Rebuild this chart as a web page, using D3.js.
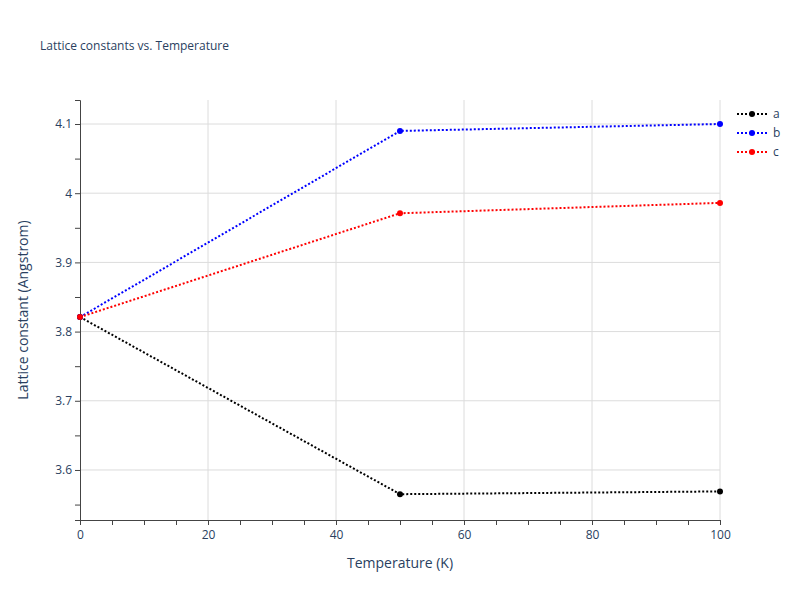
<!DOCTYPE html>
<html><head><meta charset="utf-8">
<script src="https://cdn.jsdelivr.net/npm/d3@7"></script>
<style>body{margin:0;background:#fff}text{font-family:"Open Sans",Arial,sans-serif}</style>
</head><body><svg id="c" width="800" height="600"></svg>
<script>
const temps=[0,50,100];
const seriesNames=["a","b","c"];
const seriesColors=["black","blue","red"];
const aVals=[3.821,3.565,3.569];
const bVals=[3.821,4.090,4.100];
const cVals=[3.821,3.971,3.986];
const xTicks=[0,20,40,60,80,100];
const yTicks=[3.6,3.7,3.8,3.9,4.0,4.1];
const yTickLabels=["3.6","3.7","3.8","3.9","4","4.1"];
const allVals=[aVals,bVals,cVals];
const TXT="#2a3f5f";

const svg=d3.select("#c");
const L=80,R=720,T=100,B=520;
const x=d3.scaleLinear().domain([0,100]).range([L,R]);
const y=d3.scaleLinear().domain([3.5277,4.1347]).range([B,T]);
const grid=svg.append("g");
xTicks.forEach(t=>{ if(t>0) grid.append("line").attr("x1",x(t)).attr("x2",x(t)).attr("y1",T).attr("y2",B).attr("stroke","#dcdcdc");});
yTicks.forEach(t=>grid.append("line").attr("x1",L).attr("x2",R).attr("y1",y(t)).attr("y2",y(t)).attr("stroke","#dcdcdc"));
const xa=svg.append("g").attr("transform",`translate(0,${B})`).call(d3.axisBottom(x).tickValues(d3.range(0,101,5)).tickFormat(d=>xTicks.includes(d)?d:"").tickSize(5));
xa.select(".domain").attr("stroke","#444");
xa.selectAll("line").attr("stroke","#444");
xa.selectAll("text").attr("fill",TXT).attr("font-size",12).attr("dy","0.9em");
const ya=svg.append("g").attr("transform",`translate(${L},0)`).call(d3.axisLeft(y).tickValues(d3.range(3.55,4.13,0.05)).tickFormat(d=>{const i=yTicks.findIndex(t=>Math.abs(t-d)<1e-6);return i>=0?yTickLabels[i]:"";}).tickSize(5));
ya.select(".domain").attr("stroke","#444");
ya.selectAll("line").attr("stroke","#444");
ya.selectAll("text").attr("fill",TXT).attr("font-size",12);
const line=d3.line().x((d,i)=>x(temps[i])).y(d=>y(d));
allVals.forEach((vals,k)=>{
  svg.append("path").attr("d",line(vals)).attr("fill","none").attr("stroke",seriesColors[k]).attr("stroke-width",2).attr("stroke-dasharray","2,2");
  svg.selectAll(null).data(vals).enter().append("circle").attr("cx",(d,i)=>x(temps[i])).attr("cy",d=>y(d)).attr("r",3).attr("fill",seriesColors[k]);
});
seriesNames.forEach((n,k)=>{
  const g=svg.append("g").attr("transform",`translate(737,${114+k*19})`);
  g.append("line").attr("x1",0).attr("x2",30).attr("stroke",seriesColors[k]).attr("stroke-width",2).attr("stroke-dasharray","2,2");
  g.append("circle").attr("cx",15).attr("r",3).attr("fill",seriesColors[k]);
  g.append("text").attr("x",36).attr("dy","0.35em").attr("font-size",12).attr("fill",TXT).text(n);
});
svg.append("text").attr("x",40).attr("y",50).attr("font-size",12).attr("fill",TXT).text("Lattice constants vs. Temperature");
svg.append("text").attr("x",400).attr("y",568).attr("text-anchor","middle").attr("font-size",14).attr("fill",TXT).text("Temperature (K)");
svg.append("text").attr("transform","translate(28,310) rotate(-90)").attr("text-anchor","middle").attr("font-size",14).attr("fill",TXT).text("Lattice constant (Angstrom)");
</script></body></html>
